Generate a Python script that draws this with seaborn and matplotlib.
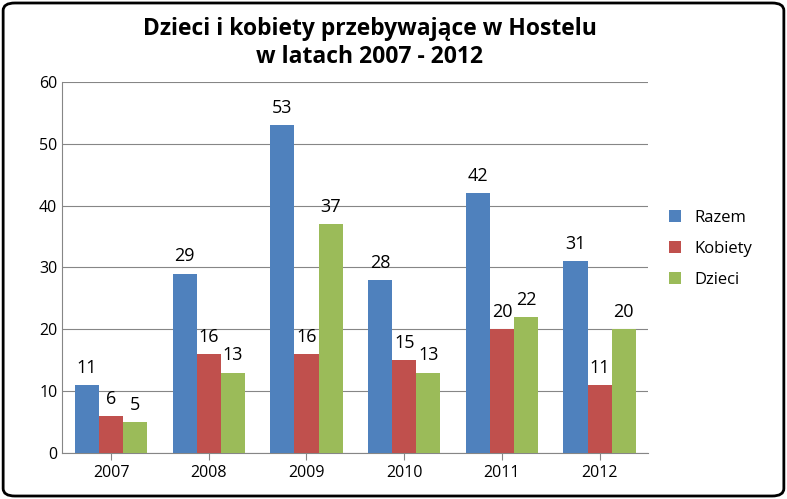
import pandas as pd
import matplotlib.pyplot as plt
import seaborn as sns
from matplotlib.patches import FancyBboxPatch

years = ["2007", "2008", "2009", "2010", "2011", "2012"]
razem = [11, 29, 53, 28, 42, 31]
kobiety = [6, 16, 16, 15, 20, 11]
dzieci = [5, 13, 37, 13, 22, 20]
series = ["Razem", "Kobiety", "Dzieci"]
colors = ["#4F81BD", "#C0504D", "#9BBB59"]

df = pd.DataFrame({"rok": years * 3,
                   "seria": [s for s in series for _ in years],
                   "wartosc": razem + kobiety + dzieci})

plt.rcParams["font.family"] = "Open Sans"
fig = plt.figure(figsize=(7.87, 4.99), dpi=100)
ax = fig.add_axes([0.079, 0.092, 0.745, 0.744])
sns.barplot(data=df, x="rok", y="wartosc", hue="seria", palette=colors,
            width=0.74, gap=0.0, ax=ax, saturation=1, zorder=3)

for c in ax.containers:
    ax.bar_label(c, fontsize=13, padding=6)

ax.set_ylim(0, 60)
ax.set_yticks(range(0, 61, 10))
ax.yaxis.grid(True, color="#868686", linewidth=0.8, zorder=0)
ax.set_axisbelow(True)
ax.set_xlabel("")
ax.set_ylabel("")
ax.tick_params(labelsize=11.5, length=0)
ax.tick_params(axis="x", length=5, color="#868686")
for s in ["top", "right"]:
    ax.spines[s].set_visible(False)
for s in ["left", "bottom"]:
    ax.spines[s].set_color("#868686")

ax.legend(loc="center left", bbox_to_anchor=(1.01, 0.55), frameon=False,
          fontsize=12, handlelength=0.7, handleheight=0.7, labelspacing=0.9)

fig.suptitle("Dzieci i kobiety przebywające w Hostelu\nw latach 2007 - 2012",
             fontsize=16.5, fontweight="bold", y=0.965, x=0.47)

fig.patches.append(FancyBboxPatch((0.004, 0.006), 0.992, 0.988,
                                  boxstyle="round,pad=0,rounding_size=0.015",
                                  transform=fig.transFigure, fill=False,
                                  edgecolor="black", linewidth=2))
fig.savefig("out.png", dpi=100)
